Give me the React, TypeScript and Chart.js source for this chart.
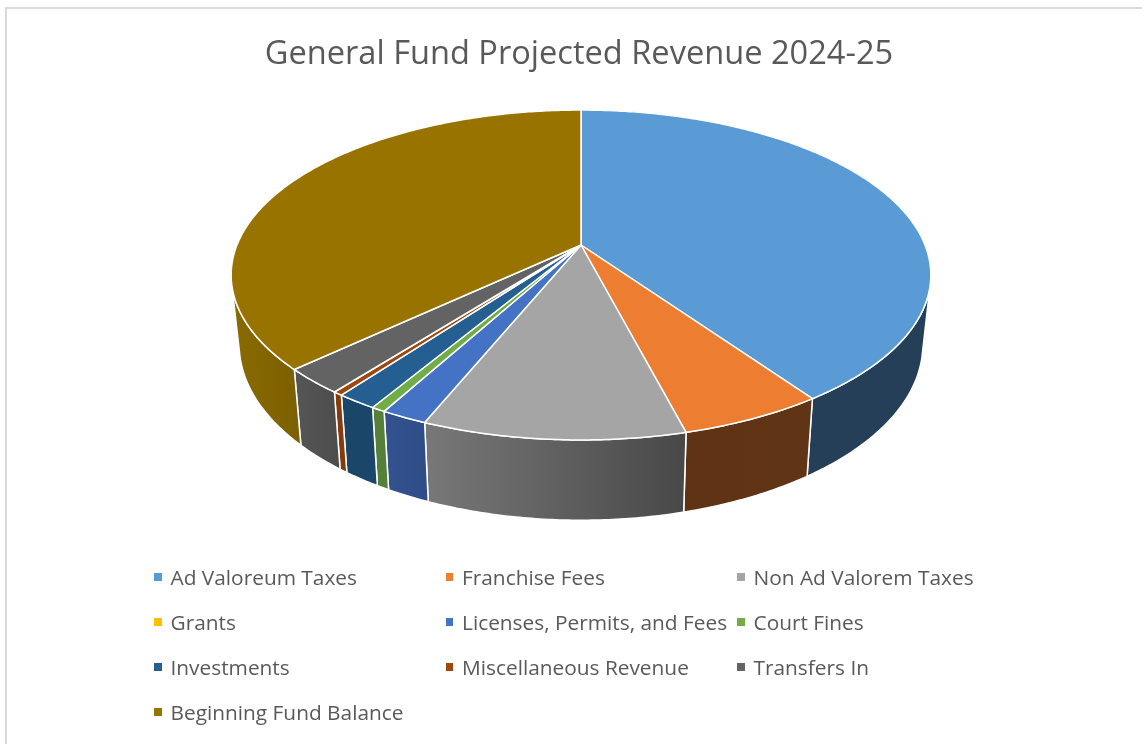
import React, { useEffect, useRef } from "react";
import { Chart, registerables } from "chart.js";

Chart.register(...registerables);

const chartTitle = "General Fund Projected Revenue 2024-25";
const categories = [
  "Ad Valoreum Taxes",
  "Franchise Fees",
  "Non Ad Valorem Taxes",
  "Grants",
  "Licenses, Permits, and Fees",
  "Court Fines",
  "Investments",
  "Miscellaneous Revenue",
  "Transfers In",
  "Beginning Fund Balance",
];
const shares = [40.3, 5.65, 10.22, 0, 1.82, 0.55, 1.6, 0.38, 2.5, 36.98];
const faceColors = ["#5B9BD5", "#ED7D31", "#A5A5A5", "#FFC000", "#4472C4", "#70AD47", "#255E91", "#9E480E", "#636363", "#997300"];
const wallFrom = ["#243F57", "#5F3214", "#787878", "#665000", "#34528F", "#54803A", "#1A4669", "#843C0C", "#565656", "#8A6A00"];
const wallTo = ["#243F57", "#603515", "#484848", "#665000", "#2E4C87", "#54803A", "#1A4669", "#843C0C", "#4C4C4C", "#7C6000"];

const FONT = '"Open Sans", sans-serif';
const TEXT = "#595959";

// Perspective of the tilted disc
const APEX_X = 581;
const APEX_Y = 245;
const K_C = -0.1818;
const K_A = 159.5;
const K_D = 344;
const WALL_XS = 0.977;
const WALL_YS = 1.064;
const WALL_DY = 67.8;
const WALL_EDGE = 0.25; // rim angle where the wall leaves the silhouette

const rimPoint = (angle: number, wall: boolean) => {
  const u = Math.cos(angle);
  const v = Math.sin(angle);
  const w = 1 + K_C * v;
  const X = (K_D * u) / w;
  const Y = (K_A * v) / w;
  return wall
    ? { x: APEX_X + X * WALL_XS, y: APEX_Y + Y * WALL_YS + WALL_DY }
    : { x: APEX_X + X, y: APEX_Y + Y };
};

const samples = (from: number, to: number) => {
  const n = Math.max(2, Math.ceil((to - from) / 0.01));
  return Array.from({ length: n + 1 }, (_, i) => from + ((to - from) * i) / n);
};

const tiltedPie = {
  id: "tiltedPie",
  beforeDatasetsDraw(chart: any) {
    const ctx = chart.ctx as CanvasRenderingContext2D;
    const arcs = chart.getDatasetMeta(0).data as any[];
    ctx.save();
    ctx.lineJoin = "round";
    // side walls: only the part of the rim that faces the viewer
    arcs.forEach((arc, i) => {
      const from = Math.max(arc.startAngle, WALL_EDGE);
      const to = Math.min(arc.endAngle, Math.PI - WALL_EDGE);
      if (to <= from) return;
      const angles = samples(from, to);
      const top = angles.map((a) => rimPoint(a, false));
      const bottom = angles.map((a) => rimPoint(a, true)).reverse();
      const xs = [...top, ...bottom].map((p) => p.x);
      const grad = ctx.createLinearGradient(Math.min(...xs), 0, Math.max(...xs), 0);
      grad.addColorStop(0, wallFrom[i]);
      grad.addColorStop(1, wallTo[i]);
      ctx.beginPath();
      [...top, ...bottom].forEach((p, k) => (k ? ctx.lineTo(p.x, p.y) : ctx.moveTo(p.x, p.y)));
      ctx.closePath();
      ctx.fillStyle = grad;
      ctx.fill();
      ctx.strokeStyle = "#FFFFFF";
      ctx.lineWidth = 1.5;
      ctx.stroke();
    });
    // top face
    arcs.forEach((arc, i) => {
      if (arc.endAngle - arc.startAngle <= 0) return;
      ctx.beginPath();
      ctx.moveTo(APEX_X, APEX_Y);
      samples(arc.startAngle, arc.endAngle).forEach((a) => {
        const p = rimPoint(a, false);
        ctx.lineTo(p.x, p.y);
      });
      ctx.closePath();
      ctx.fillStyle = faceColors[i];
      ctx.fill();
      ctx.strokeStyle = "#FFFFFF";
      ctx.lineWidth = 1.5;
      ctx.stroke();
    });
    ctx.restore();
    return false;
  },
};

export default function App() {
  const ref = useRef<HTMLCanvasElement>(null);
  useEffect(() => {
    const chart = new Chart(ref.current!, {
      type: "pie",
      data: {
        labels: categories,
        datasets: [{ data: shares, backgroundColor: faceColors, borderColor: "#FFFFFF" }],
      },
      options: {
        animation: false,
        responsive: false,
        layout: { padding: { left: 14 } },
        plugins: {
          legend: { display: false },
          tooltip: { enabled: false },
          title: {
            display: true,
            text: chartTitle,
            color: TEXT,
            font: { family: FONT, size: 32.6, weight: "normal" },
            padding: { top: 35, bottom: 10 },
          },
        },
      },
      plugins: [tiltedPie],
    } as any);
    return () => chart.destroy();
  }, []);

  return (
    <div style={{ position: "fixed", left: 0, top: 0, width: 1144, height: 744, overflow: "hidden", background: "#FFFFFF" }}>
      <canvas ref={ref} width={1144} height={744} style={{ position: "absolute", left: 0, top: 0 }} />
      <div style={{ position: "absolute", left: 5, top: 7, right: 2, bottom: 0, borderLeft: "2px solid #D9D9D9", borderTop: "2px solid #D9D9D9", boxSizing: "border-box" }} />
      {categories.map((name, i) => {
        const col = i % 3;
        const row = Math.floor(i / 3);
        const left = [154, 445.5, 737][col];
        const top = 577 + row * 45;
        return (
          <div key={name} style={{ position: "absolute", left, top: top - 15, height: 30, display: "flex", alignItems: "center", whiteSpace: "nowrap" }}>
            <span style={{ width: 7.5, height: 7.5, background: faceColors[i], marginRight: 9 }} />
            <span style={{ font: `20.85px ${FONT}`, color: TEXT }}>{name}</span>
          </div>
        );
      })}
    </div>
  );
}
